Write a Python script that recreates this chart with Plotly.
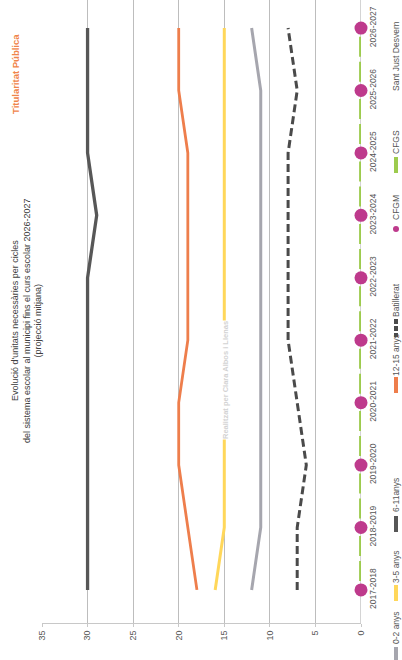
import plotly.graph_objects as go

years = ["2017-2018", "2018-2019", "2019-2020", "2020-2021", "2021-2022",
         "2022-2023", "2023-2024", "2024-2025", "2025-2026", "2026-2027"]
v_0_2 = [12, 11, 11, 11, 11, 11, 11, 11, 11, 12]
v_3_5 = [16, 15, 15, 15, 15, 15, 15, 15, 15, 15]
v_6_11 = [30, 30, 30, 30, 30, 30, 29, 30, 30, 30]
v_12_15 = [18, 19, 20, 20, 19, 19, 19, 19, 20, 20]
v_batx = [7, 7, 6, 7, 8, 8, 8, 8, 7, 8]
v_cfgm = [0, 0, 0, 0, 0, 0, 0, 0, 0, 0]
v_cfgs = [0, 0, 0, 0, 0, 0, 0, 0, 0, 0]
value_ticks = [0, 5, 10, 15, 20, 25, 30, 35]

W, H = 402, 660
L, R, T, B = 42, 361, 0, 623  # plot area in pixels


def px(xp):
    return (xp - L) / (R - L)


def py(yp):
    return (B - yp) / (B - T)


C_02 = "#A6A6AE"
C_35 = "#FFD75A"
C_611 = "#575757"
C_1215 = "#EE7E4C"
C_BAT = "#4A4A4A"
C_CFGM = "#BE3A8C"
C_CFGS = "#9DCB4E"
FONT = "Liberation Sans, Arial, sans-serif"

idx = list(range(len(years)))

fig = go.Figure()
fig.add_trace(go.Scatter(x=v_0_2, y=idx, mode="lines", name="0-2 anys",
                         line=dict(color=C_02, width=3)))
fig.add_trace(go.Scatter(x=v_3_5, y=idx, mode="lines", name="3-5 anys",
                         line=dict(color=C_35, width=3)))
fig.add_trace(go.Scatter(x=v_6_11, y=idx, mode="lines", name="6-11anys",
                         line=dict(color=C_611, width=3.3)))
fig.add_trace(go.Scatter(x=v_12_15, y=idx, mode="lines", name="12-15 anys",
                         line=dict(color=C_1215, width=2.8)))
fig.add_trace(go.Scatter(x=v_batx, y=idx, mode="lines", name="Batillerat",
                         line=dict(color=C_BAT, width=3, dash="8px,4px")))
fig.add_trace(go.Scatter(x=v_cfgs, y=idx, mode="lines", name="CFGS", cliponaxis=False,
                         line=dict(color=C_CFGS, width=3.8,
                                   dash="0px,9px,20px,5px,20px,8.4px")))
fig.add_trace(go.Scatter(x=v_cfgm, y=idx, mode="markers", name="CFGM", cliponaxis=False,
                         marker=dict(color=C_CFGM, size=13, line=dict(width=0))))

fig.update_layout(
    width=W, height=H,
    margin=dict(l=L, r=W - R, t=T, b=H - B, pad=0),
    paper_bgcolor="white", plot_bgcolor="white",
    showlegend=False,
    hovermode=False,
    font=dict(family=FONT, color="#555555", size=9),
    xaxis=dict(range=[35, 0], tickvals=value_ticks, ticktext=[str(v) for v in value_ticks],
               tickangle=-90, showgrid=True, gridcolor="#BDBDBD", gridwidth=1,
               zeroline=False, showline=True, linecolor="#C8C8C8", linewidth=1,
               ticks="outside", ticklen=3, tickcolor="#C8C8C8",
               tickfont=dict(size=9, color="#555555")),
    yaxis=dict(range=[-0.53, 9.45], tickvals=idx, ticktext=years, side="right",
               tickangle=-90, showgrid=False, zeroline=False, showline=False,
               ticks="", ticklabelstandoff=5, tickfont=dict(size=8.5, color="#555555")),
)

# vertical axis line at value 0
fig.add_shape(type="line", xref="x", yref="paper", x0=0, x1=0, y0=0, y1=1,
              line=dict(color="#A8A8A8", width=1), layer="below")

annotations = []
# title
annotations.append(dict(
    text="Evolució d'unitats necessàries per cicles<br>del sistema escolar al municipi fins el curs escolar 2026-2027<br>(projecció mitjana)",
    xref="paper", yref="paper", x=px(26), y=py(321), textangle=-90,
    showarrow=False, xanchor="center", yanchor="middle", align="center",
    font=dict(size=9, color="#404040")))
annotations.append(dict(
    text="<b>Titularitat Pública</b>", xref="paper", yref="paper",
    x=px(15), y=py(74), textangle=-90, showarrow=False,
    xanchor="center", yanchor="middle", font=dict(size=9.5, color="#F0854A")))
# watermark
annotations.append(dict(
    text="<b>Realitzat per Clara Albos i Llenas</b>", xref="paper", yref="paper",
    x=px(225), y=py(380), textangle=-90, showarrow=False,
    xanchor="center", yanchor="middle", bgcolor="white", borderpad=0,
    font=dict(size=7.5, color="#D2D2D2")))

# manual rotated legend
LX = 396
legend_items = [
    ("0-2 anys", C_02, "line", 628, 655),
    ("3-5 anys", C_35, "line", 567, 593),
    ("6-11anys", C_611, "line", 495, 524),
    ("12-15 anys", C_1215, "line", 355, 385),
    ("Batillerat", C_BAT, "dash", 300, 328),
    ("CFGM", C_CFGM, "dot", 208, 229),
    ("CFGS", C_CFGS, "line", 142, 165),
]
for name, col, kind, ty, sy in legend_items:
    annotations.append(dict(text=name, xref="paper", yref="paper", x=px(LX), y=py(ty),
                            textangle=-90, showarrow=False, xanchor="center", yanchor="middle",
                            font=dict(size=8.5, color="#555555")))
    if kind == "line":
        fig.add_shape(type="line", xref="paper", yref="paper", x0=px(LX), x1=px(LX),
                      y0=py(sy - 8), y1=py(sy + 8), line=dict(color=col, width=4))
    elif kind == "dash":
        fig.add_shape(type="line", xref="paper", yref="paper", x0=px(LX), x1=px(LX),
                      y0=py(sy - 9), y1=py(sy + 9), line=dict(color=col, width=4, dash="5px,2px"))
    else:
        fig.add_shape(type="circle", xref="paper", yref="paper", x0=px(LX - 3), x1=px(LX + 3),
                      y0=py(sy - 3), y1=py(sy + 3), fillcolor=col, line=dict(width=0))
annotations.append(dict(text="Sant Just Desvern", xref="paper", yref="paper", x=px(LX), y=py(56),
                        textangle=-90, showarrow=False, xanchor="center", yanchor="middle",
                        font=dict(size=8.5, color="#555555")))

fig.update_layout(annotations=annotations)
fig.write_html("out.html", config={"displayModeBar": False, "staticPlot": True},
               post_script="document.body.style.margin='0';document.body.style.overflow='hidden';")
